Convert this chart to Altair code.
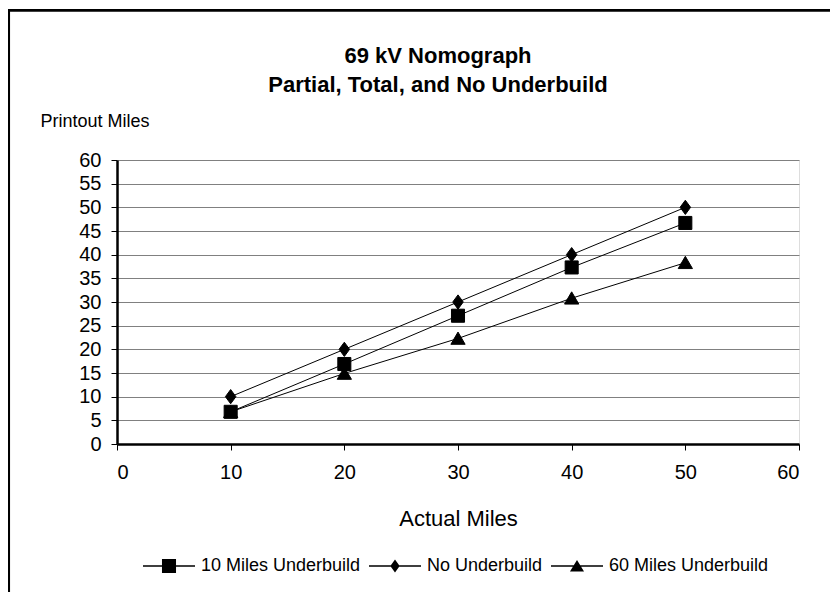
import altair as alt
import pandas as pd

# ---- data ----
actual_miles = [10, 20, 30, 40, 50]
ub10_miles = [6.8, 16.9, 27.1, 37.3, 46.7]     # 10 Miles Underbuild (squares)
no_ub_miles = [10, 20, 30, 40, 50]             # No Underbuild (diamonds)
ub60_miles = [6.8, 14.9, 22.3, 30.8, 38.3]     # 60 Miles Underbuild (triangles)
series_names = ["10 Miles Underbuild", "No Underbuild", "60 Miles Underbuild"]
title_lines = ["69 kV Nomograph", "Partial, Total, and No Underbuild"]
y_ticks = list(range(0, 61, 5))
x_ticks = list(range(0, 61, 10))

rows = []
for name, vals in zip(series_names, [ub10_miles, no_ub_miles, ub60_miles]):
    for a, v in zip(actual_miles, vals):
        rows.append({"series": name, "actual": a, "printout": v})
df = pd.DataFrame(rows)

FONT = "Liberation Sans"

marker_paths = [
    "M-0.87,-0.87L0.87,-0.87L0.87,0.87L-0.87,0.87Z",
    "M0,-0.95L0.7,0L0,0.95L-0.7,0Z",
    "M0,-0.85L0.95,0.78L-0.95,0.78Z",
]
# legend symbols: a thin filled bar (the line) plus the marker, same winding
LINE = "M-1,-0.026L1,-0.026L1,0.026L-1,0.026Z"
legend_paths = [
    LINE + "M-0.27,-0.27L0.27,-0.27L0.27,0.27L-0.27,0.27Z",
    LINE + "M0,-0.25L0.18,0L0,0.25L-0.18,0Z",
    LINE + "M0,-0.23L0.27,0.21L-0.27,0.21Z",
]

x_enc = alt.X("actual:Q", scale=alt.Scale(domain=[0, 60], nice=False),
              axis=alt.Axis(values=x_ticks, grid=False, title="Actual Miles",
                            titleFontSize=22, titleFontWeight="normal",
                            titleY=81, titleBaseline="alphabetic",
                            labelFontSize=20, labelPadding=12, tickSize=6,
                            domainWidth=2.5, domainColor="black",
                            tickColor="black", labelColor="black",
                            titleColor="black", labelFont=FONT, titleFont=FONT))
y_enc = alt.Y("printout:Q", scale=alt.Scale(domain=[0, 60], nice=False),
              axis=alt.Axis(values=y_ticks, grid=True, gridColor="#808080",
                            gridWidth=1, title="Printout Miles",
                            titleAngle=0, titleAlign="left",
                            titleBaseline="alphabetic", titleX=-77, titleY=-34,
                            titleFontSize=18, titleFontWeight="normal",
                            labelFontSize=20, labelPadding=10, tickSize=6,
                            domainWidth=2.5, domainColor="black",
                            tickColor="black", labelColor="black",
                            titleColor="black", labelFont=FONT, titleFont=FONT))

base = alt.Chart(df)

lines = base.mark_line(color="black", strokeWidth=1).encode(
    x=x_enc, y=y_enc, detail="series:N"
)

points = base.mark_point(filled=True, fill="black", stroke="black", strokeWidth=1,
                         opacity=1, size=225).encode(
    x=x_enc, y=y_enc,
    shape=alt.Shape("series:N",
                    scale=alt.Scale(domain=series_names, range=marker_paths),
                    legend=None),
)

legend_layer = base.transform_filter("datum.actual < 0").mark_point(
    filled=True, fill="black", opacity=1
).encode(
    shape=alt.Shape("series:N",
                    scale=alt.Scale(domain=series_names, range=legend_paths),
                    legend=alt.Legend(title=None, orient="none", direction="horizontal",
                                      legendX=26, legendY=380,
                                      symbolSize=2704, symbolFillColor="black",
                                      symbolStrokeWidth=0,
                                      symbolOpacity=1,
                                      labelFontSize=18, labelFont=FONT,
                                      labelColor="black", labelOffset=6,
                                      columnPadding=8)),
)

one = pd.DataFrame({"k": [0]})
title1 = alt.Chart(one).mark_text(
    font=FONT, fontSize=22, fontWeight="bold", color="black",
    align="center", baseline="alphabetic"
).encode(x=alt.value(321), y=alt.value(-97), text=alt.value(title_lines[0]))
title2 = alt.Chart(one).mark_text(
    font=FONT, fontSize=22, fontWeight="bold", color="black",
    align="center", baseline="alphabetic"
).encode(x=alt.value(321), y=alt.value(-68), text=alt.value(title_lines[1]))

frame_top = alt.Chart(one).mark_rule(color="black", strokeWidth=2.7).encode(
    x=alt.value(-108.3), x2=alt.value(713), y=alt.value(-149.7)
)
frame_left = alt.Chart(one).mark_rule(color="black", strokeWidth=2.7).encode(
    x=alt.value(-108.3), y=alt.value(-151), y2=alt.value(432)
)

chart = alt.layer(lines, points, legend_layer, title1, title2,
                  frame_top, frame_left).resolve_scale(
    shape="independent"
).properties(
    width=682,
    height=284,
    padding={"left": 109, "top": 152, "right": 31, "bottom": 148},
    autosize=alt.AutoSizeParams(type="none"),
).configure_view(
    stroke="black", strokeWidth=1.5
).configure(
    font=FONT, background="white"
)

chart.save("out.html", embed_options={"renderer": "svg", "actions": False})
